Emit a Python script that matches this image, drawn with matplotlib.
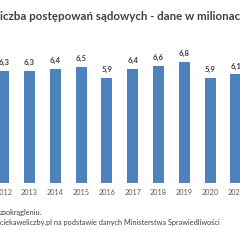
import matplotlib
matplotlib.use("Agg")
import matplotlib.pyplot as plt

years = ["2012", "2013", "2014", "2015", "2016", "2017", "2018", "2019", "2020", "2021"]
values = [6.3, 6.3, 6.4, 6.5, 5.9, 6.4, 6.6, 6.8, 5.9, 6.1]
value_labels = ["6,3", "6,3", "6,4", "6,5", "5,9", "6,4", "6,6", "6,8", "5,9", "6,1"]
title = "iczba postępowań sądowych - dane w milionac"
note1 = "zaokrągleniu."
note2 = "ciekaweliczby.pl na podstawie danych Ministerstwa Sprawiedliwości"

plt.rcParams['font.family'] = ['Lato', 'DejaVu Sans']

W = 240
fig = plt.figure(figsize=(2.4, 2.4), dpi=100)
fig.patch.set_facecolor("white")

base_px = 183.0
ppu = 17.8
ymax = 8.0
top_px = base_px - ymax * ppu
ax = fig.add_axes([0, (240 - base_px) / 240, 1, (base_px - top_px) / 240])
x0 = 3.7
step = 25.8
ax.set_xlim(-x0 / step, (W - x0) / step)
ax.set_ylim(0, ymax)

xs = list(range(len(years)))
ax.bar(xs, values, width=11 / step, color="#4F81BD", zorder=2)
for x, v, lab in zip(xs, values, value_labels):
    ax.annotate(lab, (x, v), xytext=(0, 3.5), textcoords="offset points",
                ha="center", va="bottom", fontsize=5.6, fontweight="bold", color="#404040")

ax.axhline(0, color="#D9D9D9", lw=0.8, zorder=3)
for s in ax.spines.values():
    s.set_visible(False)
ax.set_yticks([])
ax.set_xticks(xs)
ax.set_xticklabels(years, fontsize=5.2, color="#595959")
ax.tick_params(axis="x", length=0, pad=4)

fig.text(0.0, 1 - 17 / 240, title, fontsize=8.3, fontweight="bold", color="#404040",
         ha="left", va="center")
fig.text(0.0, 1 - 213 / 240, note1, fontsize=5.3, color="#404040", ha="left", va="center")
fig.text(0.0, 1 - 223 / 240, note2, fontsize=5.3, color="#404040", ha="left", va="center")

fig.savefig("out.png", dpi=100, facecolor="white")
